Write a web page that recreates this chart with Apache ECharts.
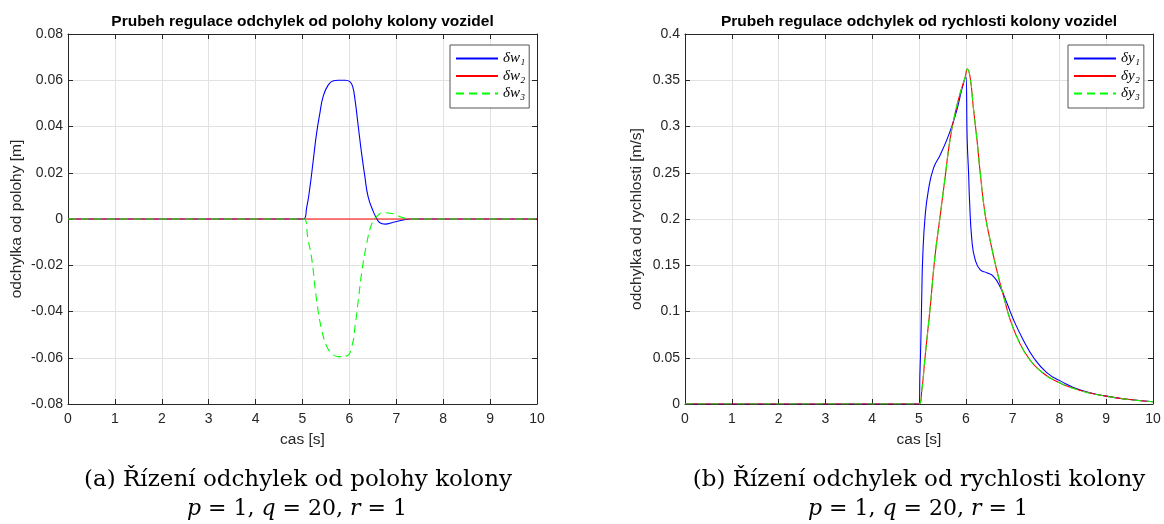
<!DOCTYPE html>
<html>
<head>
<meta charset="utf-8">
<script src="https://cdn.jsdelivr.net/npm/echarts@6/dist/echarts.min.js"></script>
<style>
  html, body { margin: 0; padding: 0; background: #ffffff; }
  #chart { width: 1164px; height: 524px; }
</style>
</head>
<body>
<div id="chart"></div>
<script>
// ---- (a) position deviations: time [s] and deviation [m] ----
const tW1 = [0, 5.02, 5.09, 5.16, 5.23, 5.30, 5.37, 5.44, 5.55, 5.66, 5.76, 5.91, 6.01, 6.07, 6.12, 6.19, 6.26, 6.33, 6.40, 6.51, 6.58, 6.65, 6.76, 6.94, 7.15, 7.30, 10];
const w1  = [0, 0, 0.005, 0.014, 0.0255, 0.037, 0.0457, 0.0529, 0.058, 0.0598, 0.0600, 0.0600, 0.0594, 0.0572, 0.0515, 0.0399, 0.0284, 0.0183, 0.0096, 0.0032, 0.0003, -0.0016, -0.0022, -0.0014, -0.0004, 0, 0];
const tW2 = [0, 10];
const w2  = [0, 0];
const tW3 = [0, 5.02, 5.12, 5.20, 5.30, 5.41, 5.52, 5.62, 5.76, 5.94, 6.05, 6.12, 6.19, 6.26, 6.37, 6.48, 6.58, 6.72, 6.87, 7.08, 7.29, 10];
const w3  = [0, 0, -0.0091, -0.0177, -0.035, -0.048, -0.0552, -0.058, -0.0595, -0.0592, -0.0552, -0.0466, -0.035, -0.0235, -0.0105, -0.0019, 0.001, 0.0027, 0.0025, 0.001, 0, 0];

// ---- (b) velocity deviations: time [s] and deviation [m/s] ----
const tY1 = [0, 5.00, 5.02, 5.04, 5.06, 5.08, 5.13, 5.20, 5.31, 5.45, 5.59, 5.70, 5.81, 5.91, 6.00, 6.03, 6.06, 6.08, 6.13, 6.20, 6.31, 6.45, 6.59, 6.73, 6.88, 7.02, 7.23, 7.45, 7.73, 8.02, 8.45, 9.0, 9.5, 10];
const y1  = [0, 0, 0.033, 0.069, 0.12, 0.159, 0.2025, 0.231, 0.255, 0.269, 0.285, 0.30, 0.318, 0.339, 0.354, 0.285, 0.249, 0.22, 0.177, 0.156, 0.145, 0.142, 0.138, 0.127, 0.109, 0.091, 0.069, 0.050, 0.034, 0.025, 0.015, 0.0085, 0.0048, 0.0025];
const tY2 = [0, 5.00, 5.06, 5.13, 5.24, 5.34, 5.45, 5.56, 5.66, 5.77, 5.88, 5.99, 6.03, 6.09, 6.16, 6.24, 6.31, 6.41, 6.52, 6.66, 6.81, 6.95, 7.16, 7.38, 7.59, 7.88, 8.45, 9.0, 9.5, 10];
const y2  = [0, 0, 0.015, 0.051, 0.105, 0.159, 0.2025, 0.246, 0.285, 0.314, 0.336, 0.354, 0.362, 0.354, 0.321, 0.285, 0.249, 0.206, 0.177, 0.145, 0.116, 0.091, 0.065, 0.047, 0.036, 0.026, 0.0145, 0.0085, 0.0048, 0.0025];
const tY3 = tY2;
const y3  = [0, 0, 0.015, 0.051, 0.105, 0.159, 0.2025, 0.246, 0.285, 0.314, 0.336, 0.354, 0.362, 0.354, 0.321, 0.285, 0.249, 0.206, 0.177, 0.145, 0.116, 0.091, 0.065, 0.047, 0.036, 0.026, 0.0145, 0.0085, 0.0048, 0.0025];

// ---- axis ranges and text ----
const xRange = { min: 0, max: 10, step: 1 };
const yRangeA = { min: -0.08, max: 0.08, step: 0.02 };
const yRangeB = { min: 0, max: 0.4, step: 0.05 };
const titles = ['Prubeh regulace odchylek od polohy kolony vozidel', 'Prubeh regulace odchylek od rychlosti kolony vozidel'];
const xName = 'cas [s]';
const yNames = ['odchylka od polohy [m]', 'odchylka od rychlosti [m/s]'];
const namesA = ['δw₁', 'δw₂', 'δw₃'];
const namesB = ['δy₁', 'δy₂', 'δy₃'];
const captions = ['(a) Řízení odchylek od polohy kolony', '(b) Řízení odchylek od rychlosti kolony'];
const params = '{i|p} = 1, {i|q} = 20, {i|r} = 1';

const AX = '#262626';
const SANS = '"Liberation Sans", Arial, sans-serif';
const SERIF = '"DejaVu Serif", "Liberation Serif", serif';
const LSERIF = '"Liberation Serif", "DejaVu Serif", serif';
const GRIDCOL = '#e2e2e2';

const zip = (t, v) => t.map((x, i) => [x, v[i]]);
const fmt = v => String(+v.toFixed(3));

function xAxes(gi) {
  const common = {
    type: 'value', gridIndex: gi, min: xRange.min, max: xRange.max, interval: xRange.step,
    axisLine: { show: true, onZero: false, lineStyle: { color: AX, width: 1 } },
    axisTick: { show: true, inside: true, length: 5, lineStyle: { color: AX } }
  };
  return [
    Object.assign({}, common, {
      position: 'bottom', name: xName, nameLocation: 'middle', nameGap: 28,
      nameTextStyle: { fontSize: 15.5, color: AX, fontFamily: SANS },
      axisLabel: { margin: 8, fontSize: 14, color: AX, fontFamily: SANS, formatter: fmt },
      splitLine: { show: true, lineStyle: { color: GRIDCOL, width: 1 } }
    }),
    Object.assign({}, common, {
      position: 'top', axisLabel: { show: false }, splitLine: { show: false }
    })
  ];
}

function yAxes(gi, r, name, gap) {
  const common = {
    type: 'value', gridIndex: gi, min: r.min, max: r.max, interval: r.step,
    axisLine: { show: true, onZero: false, lineStyle: { color: AX, width: 1 } },
    axisTick: { show: true, inside: true, length: 5, lineStyle: { color: AX } }
  };
  return [
    Object.assign({}, common, {
      position: 'left', name: name, nameLocation: 'middle', nameGap: gap,
      nameTextStyle: { fontSize: 15.5, color: AX, fontFamily: SANS },
      axisLabel: { margin: 5, fontSize: 14, color: AX, fontFamily: SANS, formatter: fmt },
      splitLine: { show: true, lineStyle: { color: GRIDCOL, width: 1 } }
    }),
    Object.assign({}, common, {
      position: 'right', axisLabel: { show: false }, splitLine: { show: false }
    })
  ];
}

function line(name, xi, yi, data, color, dashed) {
  return {
    type: 'line', name: name, xAxisIndex: xi, yAxisIndex: yi, data: data,
    showSymbol: false, symbol: 'none', smooth: 0.5,
    lineStyle: { color: color, width: 1.1, type: dashed ? [8, 5] : 'solid' },
    itemStyle: { color: color },
    emphasis: { disabled: true }, animation: false, z: 3
  };
}

function legend(names, left) {
  return {
    data: names, orient: 'vertical', left: left, top: 45,
    backgroundColor: '#ffffff', borderColor: '#555555', borderWidth: 1,
    padding: [6, 4, 7, 5], itemGap: 2.5, itemWidth: 42, itemHeight: 14,
    selectedMode: false,
    itemStyle: { opacity: 0 },
    textStyle: { fontFamily: LSERIF, fontStyle: 'italic', fontSize: 15, color: '#000', lineHeight: 14 }
  };
}

const chart = echarts.init(document.getElementById('chart'), null, { renderer: 'canvas' });

chart.setOption({
  animation: false,
  backgroundColor: '#ffffff',
  grid: [
    { left: 68, right: 627, top: 34, bottom: 120 },
    { left: 685, right: 11, top: 34, bottom: 120 }
  ],
  xAxis: [].concat(xAxes(0), xAxes(1)),
  yAxis: [].concat(yAxes(0, yRangeA, yNames[0], 43), yAxes(1, yRangeB, yNames[1], 40)),
  legend: [legend(namesA, 450), legend(namesB, 1068)],
  series: [
    line(namesA[0], 0, 0, zip(tW1, w1), '#0000ff', false),
    line(namesA[1], 0, 0, zip(tW2, w2), '#ff0000', false),
    line(namesA[2], 0, 0, zip(tW3, w3), '#00ff00', true),
    line(namesB[0], 2, 2, zip(tY1, y1), '#0000ff', false),
    line(namesB[1], 2, 2, zip(tY2, y2), '#ff0000', false),
    line(namesB[2], 2, 2, zip(tY3, y3), '#00ff00', true)
  ],
  graphic: [
    { type: 'text', x: 302.5, y: 22, style: { text: titles[0], textAlign: 'center', textVerticalAlign: 'middle', font: 'bold 15.5px ' + SANS, fill: '#000' } },
    { type: 'text', x: 919, y: 22, style: { text: titles[1], textAlign: 'center', textVerticalAlign: 'middle', font: 'bold 15.5px ' + SANS, fill: '#000' } },
    { type: 'text', x: 298, y: 480, style: { text: captions[0], textAlign: 'center', textVerticalAlign: 'middle', font: '23px ' + SERIF, fill: '#000' } },
    { type: 'text', x: 919, y: 480, style: { text: captions[1], textAlign: 'center', textVerticalAlign: 'middle', font: '23px ' + SERIF, fill: '#000' } },
    { type: 'text', x: 297, y: 509, style: { text: params, textAlign: 'center', textVerticalAlign: 'middle', font: '22px ' + SERIF, fill: '#000', rich: { i: { fontStyle: 'italic', fontSize: 22, fontFamily: SERIF } } } },
    { type: 'text', x: 918, y: 509, style: { text: params, textAlign: 'center', textVerticalAlign: 'middle', font: '22px ' + SERIF, fill: '#000', rich: { i: { fontStyle: 'italic', fontSize: 22, fontFamily: SERIF } } } }
  ]
});
</script>
</body>
</html>
